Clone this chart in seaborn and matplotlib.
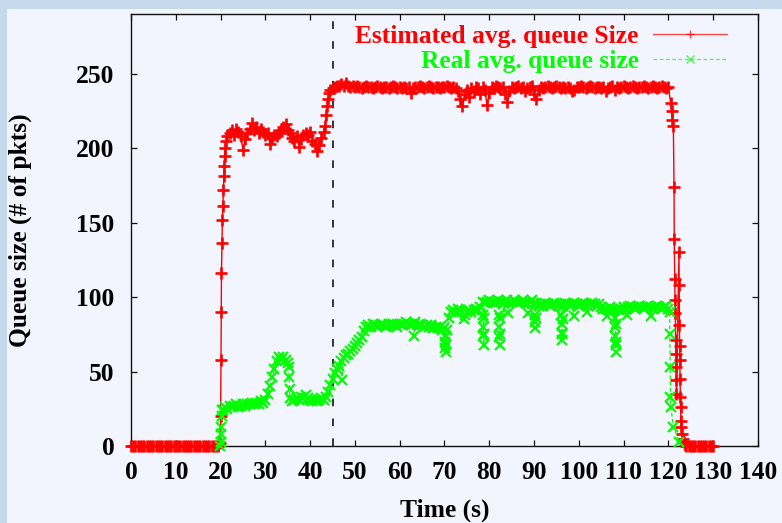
import numpy as np
import pandas as pd
import matplotlib
matplotlib.use("Agg")
import matplotlib.pyplot as plt
from matplotlib.patches import Rectangle
import seaborn as sns

SAMPLE_STEP = 0.5  # seconds between regular samples

# ---- Estimated average queue size (pkts) ----
est_idle_start = 0.0
est_idle = [0, 0, 0, 0, 0, 0, 0, 0, 0, 0,
            0, 0, 0, 0, 0, 0, 0, 0, 0, 0,
            0, 0, 0, 0, 0, 0, 0, 0, 0, 0,
            0, 0, 0, 0, 0, 0, 0, 0, 0, 0]
est_rise_t = [19.9, 20.0, 20.1, 20.15, 20.2, 20.3, 20.4, 20.5, 20.6, 20.7, 20.8, 20.9, 21.0, 21.2]
est_rise = [2, 20, 58, 90, 116, 136, 152, 161, 172, 181, 188, 195, 200, 205]
est_level1_start = 21.5
est_level1 = [208, 210, 212, 209, 213, 211, 208, 199, 206, 210,
              213, 217, 212, 214, 210, 213, 211, 209, 210, 203,
              207, 209, 208, 210, 212, 214, 216, 212, 210, 207,
              205, 208, 201, 206, 209, 210, 209, 211, 205, 203,
              198, 202, 207]
est_step_t = [43.0, 43.3, 43.6, 43.8, 44.0, 44.2, 44.5]
est_step = [211, 215, 222, 228, 233, 237, 239]
est_level2_start = 45.0
est_level2 = [240, 241, 242, 242, 243, 242, 244, 242, 241, 242,
              241, 242, 241, 240, 241, 242, 241, 241, 240, 241,
              242, 241, 240, 241, 241, 240, 241, 242, 241, 240,
              241, 240, 241, 240, 241, 237, 240, 241, 241, 242,
              241, 240, 241, 242, 241, 240, 241, 241, 240, 241,
              241, 242, 241, 240, 241, 240, 238, 233, 228, 236,
              239, 234, 240, 238, 241, 240, 236, 241, 239, 229,
              237, 241, 240, 242, 241, 240, 241, 236, 231, 238,
              241, 240, 241, 242, 240, 241, 238, 240, 241, 242,
              236, 233, 239, 241, 240, 241, 242, 241, 240, 241,
              242, 241, 240, 241, 240, 241, 240, 238, 239, 241,
              241, 242, 241, 240, 241, 242, 241, 240, 241, 241,
              240, 241, 238, 240, 241, 242, 239, 241, 240, 241,
              242, 241, 240, 241, 242, 241, 240, 241, 241, 242,
              241, 240, 241, 242, 241, 240, 241, 242, 241, 240,
              241]
est_drop_t = [120.5, 120.7, 120.9, 121.1, 121.25, 121.3, 121.4, 121.5, 121.55, 121.6,
              121.65, 121.7, 121.75, 121.8, 122.35, 122.4, 122.45, 122.5, 122.55, 122.6,
              122.65, 122.7, 122.8, 122.9, 123.0, 123.2, 123.4, 123.7, 124.0]
est_drop = [230, 225, 219, 215, 174, 139, 112, 98, 89, 71,
            62, 53, 44, 35, 130, 108, 81, 67, 58, 45,
            33, 26, 17, 13, 8, 5, 3, 1, 0]
est_tail_start = 124.5
est_tail = [0, 0, 0, 0, 0, 0, 0, 0, 0, 0, 0, 0]

# ---- Real average queue size (pkts) ----
real_rise_t = [19.9, 20.0, 20.1, 20.2, 20.3, 20.4]
real_rise = [0, 3, 8, 13, 20, 24]
real_level1_start = 20.5
real_level1 = [24, 26, 25, 27, 26, 27, 28, 26, 27, 28,
               27, 28, 28, 29, 28, 29, 28, 30, 29, 31,
               35, 40, 46, 52, 57, 60, 58, 60, 58, 56]
real_drop_t = [35.2, 35.3, 35.4, 35.5]
real_drop = [53, 46, 38, 32]
real_level2_start = 36.0
real_level2 = [30, 31, 32, 31, 33, 32, 34, 32, 31, 30,
               31, 30, 31, 32, 31, 33, 36, 41, 45, 49,
               52, 54, 57, 59, 61, 62, 64, 65, 67, 69,
               71, 73, 77, 80, 81, 80, 82, 81, 80, 81,
               82, 81, 80, 82, 81, 82, 81, 80, 82, 81,
               82, 83, 82, 81, 82, 83, 81, 82, 81, 80,
               81, 80, 81, 79, 80, 79, 80, 78, 79, 78,
               86, 90, 91, 90, 92, 91, 90, 88, 90, 91,
               90, 91, 92, 91, 93, 97, 96, 97, 98, 97,
               97, 96, 98, 97, 96, 97, 98, 96, 97, 98,
               97, 96, 97, 98, 97, 96, 97, 98, 96, 95,
               94, 95, 94, 96, 95, 94, 95, 96, 95, 94,
               95, 94, 96, 95, 94, 95, 96, 95, 94, 95,
               96, 95, 94, 95, 96, 95, 94, 95, 93, 92,
               92, 91, 93, 92, 91, 92, 91, 92, 93, 92,
               93, 94, 93, 92, 93, 94, 93, 92, 93, 94,
               93, 92, 93, 94, 93, 92, 93, 94, 92]
real_dip_t = [47.05, 63.1,
              70.1, 70.15, 70.2, 70.25, 70.3, 70.35,
              74.3,
              78.6, 78.65, 78.7, 78.75, 78.8, 78.85,
              82.15, 82.2, 82.25, 82.3, 82.35, 82.4,
              84.1, 88.6,
              90.2, 90.25, 90.3, 90.35,
              96.1, 96.15, 96.2, 96.25, 96.3, 96.35,
              98.85, 101.85, 106.35,
              108.05, 108.1, 108.15, 108.2, 108.25, 108.3, 108.35,
              110.85, 116.1]
real_dip = [44, 74,
            74, 70, 66, 63, 68, 74,
            85,
            88, 80, 74, 68, 75, 86,
            88, 80, 73, 68, 75, 86,
            89, 89,
            88, 83, 79, 86,
            88, 82, 76, 71, 75, 85,
            87, 90, 87,
            86, 80, 74, 68, 63, 70, 82,
            88, 87]
real_end_t = [120.25, 120.3, 120.35, 120.45, 120.55, 121.1, 122.4]
real_end = [90, 75, 53, 33, 26, 13, 3]

x_ticks = [0, 10, 20, 30, 40, 50, 60, 70, 80, 90, 100, 110, 120, 130, 140]
y_ticks = [0, 50, 100, 150, 200, 250]
marker_time = 45.0


def sampled(start, values):
    t = start + SAMPLE_STEP * np.arange(len(values))
    return pd.DataFrame({"t": t, "q": values})


def explicit(times, values):
    return pd.DataFrame({"t": times, "q": values})


est_df = pd.concat([
    sampled(est_idle_start, est_idle),
    explicit(est_rise_t, est_rise),
    sampled(est_level1_start, est_level1),
    explicit(est_step_t, est_step),
    sampled(est_level2_start, est_level2),
    explicit(est_drop_t, est_drop),
    sampled(est_tail_start, est_tail),
]).sort_values("t", kind="stable").reset_index(drop=True)

real_df = pd.concat([
    explicit(real_rise_t, real_rise),
    sampled(real_level1_start, real_level1),
    explicit(real_drop_t, real_drop),
    sampled(real_level2_start, real_level2),
    explicit(real_dip_t, real_dip),
    explicit(real_end_t, real_end),
]).sort_values("t", kind="stable").reset_index(drop=True)

sns.set_theme(style="ticks")
plt.rcParams["font.family"] = ["Liberation Serif", "DejaVu Serif"]
plt.rcParams["font.weight"] = "bold"
plt.rcParams["axes.labelweight"] = "bold"
plt.rcParams["axes.edgecolor"] = "#111111"

FS = 18.4
BG = "#f2f5fe"
fig = plt.figure(figsize=(7.82, 5.23), dpi=100, facecolor=BG)
# slide border strips
fig.patches.append(Rectangle((0, 1 - 9 / 523), 1, 9 / 523, transform=fig.transFigure,
                             facecolor="#c5d9ec", edgecolor="none", zorder=-5))
fig.patches.append(Rectangle((0, 0), 7 / 782, 1, transform=fig.transFigure,
                             facecolor="#c5d9ec", edgecolor="none", zorder=-5))

ax = fig.add_axes([131 / 782, 77 / 523, 627 / 782, 432 / 523])
ax.set_facecolor(BG)

sns.lineplot(data=est_df, x="t", y="q", ax=ax, estimator=None, sort=False,
             color="#ff0000", linewidth=1.0, marker="+", markersize=8,
             markeredgewidth=1.9, markeredgecolor="#ff0000",
             label="Estimated avg. queue Size", clip_on=False, zorder=3)
sns.lineplot(data=real_df, x="t", y="q", ax=ax, estimator=None, sort=False,
             color="#00ff00", linewidth=0.9, linestyle=(0, (3, 2)), marker="x",
             markersize=6.5, markeredgewidth=1.6, markeredgecolor="#00ff00",
             label="Real avg. queue size", clip_on=False, zorder=4)

ax.axvline(marker_time, color="black", linewidth=1.1, dashes=(5, 8), zorder=2)

ax.set_xlim(0, 140)
ax.set_ylim(0, 290)
ax.set_xticks(x_ticks)
ax.set_yticks(y_ticks)
ax.tick_params(direction="in", length=4.5, width=0.9, top=True, right=True,
               labelsize=FS, color="#111111", labelcolor="black")
ax.tick_params(axis="x", pad=10.5)
ax.tick_params(axis="y", pad=12)
for lab in ax.get_xticklabels() + ax.get_yticklabels():
    lab.set_fontweight("bold")
for s in ax.spines.values():
    s.set_linewidth(1.0)

ax.set_xlabel("Time (s)", fontsize=FS, color="black", fontweight="bold")
ax.set_ylabel("Queue size (# of pkts)", fontsize=FS, color="black", fontweight="bold")
ax.xaxis.set_label_coords(0.5, (446 - 517) / 432)
ax.xaxis.label.set_verticalalignment("baseline")
ax.yaxis.set_label_coords((27 - 131) / 627, 0.5)
ax.yaxis.label.set_verticalalignment("baseline")

leg = ax.legend(loc="upper right", bbox_to_anchor=(0.9506, 0.975), frameon=False,
                markerfirst=False, numpoints=1, handlelength=2.9, handletextpad=0.55,
                labelspacing=0.1, borderpad=0, borderaxespad=0,
                prop={"size": FS, "weight": "bold"}, labelcolor="linecolor")
for h in leg.legend_handles:
    h.set_markersize(6)
    h.set_markeredgewidth(1.0)
    h.set_alpha(0.7)

fig.savefig("out.png", dpi=100, facecolor=BG)
